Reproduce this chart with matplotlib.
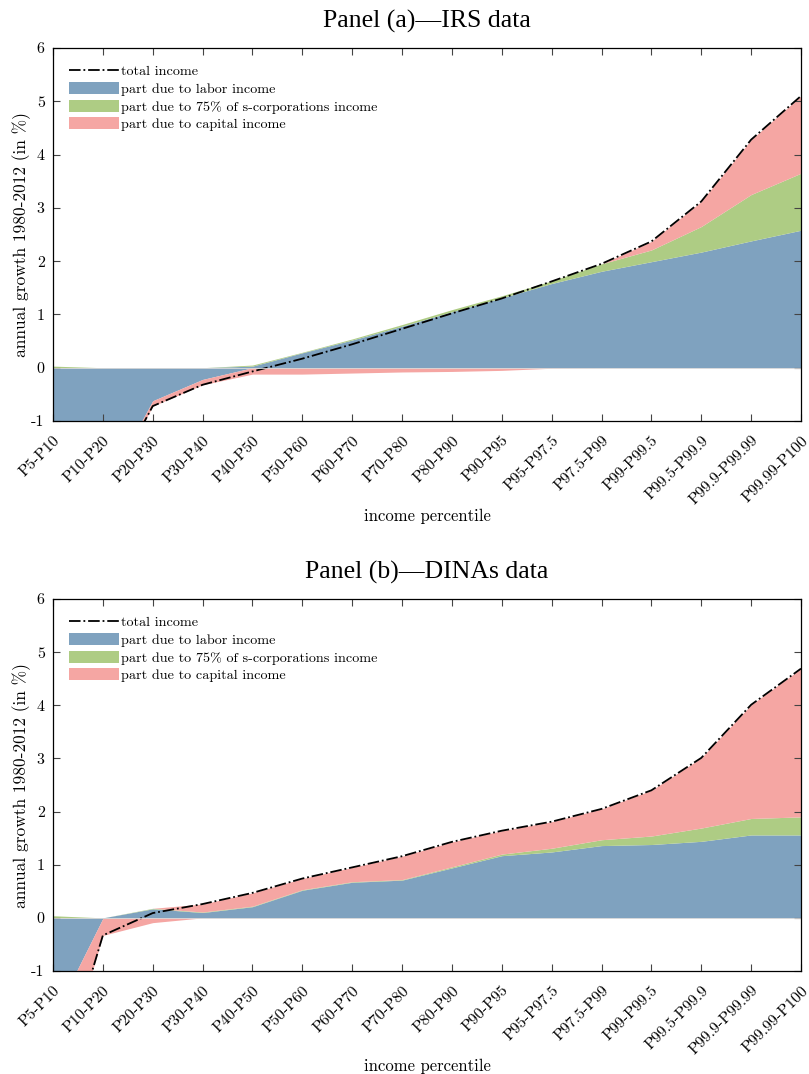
import numpy as np
import matplotlib
matplotlib.use("Agg")
import matplotlib.pyplot as plt
from matplotlib.lines import Line2D
from matplotlib.patches import Patch

plt.rcParams['font.family'] = ['cmr10', 'DejaVu Serif']
plt.rcParams['axes.unicode_minus'] = False

categories = ["P5-P10", "P10-P20", "P20-P30", "P30-P40", "P40-P50", "P50-P60",
              "P60-P70", "P70-P80", "P80-P90", "P90-P95", "P95-P97.5", "P97.5-P99",
              "P99-P99.5", "P99.5-P99.9", "P99.9-P99.99", "P99.99-P100"]

# Panel (a) IRS data
irs_labor = [-2.50, -2.35, -0.62, -0.22, 0.03, 0.28, 0.52, 0.78, 1.05, 1.31, 1.58, 1.81, 1.99, 2.17, 2.38, 2.58]
irs_scorp = [0.03, 0.00, 0.00, 0.00, 0.02, 0.01, 0.02, 0.03, 0.04, 0.04, 0.05, 0.14, 0.22, 0.48, 0.87, 1.07]
irs_capital = [-0.30, -0.12, -0.10, -0.10, -0.12, -0.12, -0.10, -0.08, -0.07, -0.05, -0.01, 0.00, 0.16, 0.47, 1.03, 1.45]

# Panel (b) DINAs data
dina_labor = [-1.89, -0.01, 0.17, 0.10, 0.21, 0.52, 0.67, 0.71, 0.94, 1.17, 1.24, 1.36, 1.38, 1.44, 1.56, 1.56]
dina_scorp = [0.04, 0.00, 0.01, 0.01, 0.01, 0.01, 0.01, 0.01, 0.02, 0.03, 0.07, 0.11, 0.16, 0.25, 0.31, 0.34]
dina_capital = [-1.61, -0.32, -0.09, 0.15, 0.25, 0.21, 0.27, 0.44, 0.47, 0.44, 0.50, 0.58, 0.86, 1.32, 2.14, 2.79]

legend_labels = ["total income", "part due to labor income",
                 "part due to 75% of s-corporations income", "part due to capital income"]
titles = ["Panel (a)\u2014IRS data", "Panel (b)\u2014DINAs data"]
ytick_vals = [-1, 0, 1, 2, 3, 4, 5, 6]

c_labor = "#7fa2bf"
c_scorp = "#aecc84"
c_cap = "#f5a6a3"

W, H = 809, 1074
fig = plt.figure(figsize=(W / 100, H / 100), dpi=100)


def make_axes(top_px, bottom_px):
    left, right = 53, 801
    return fig.add_axes([left / W, 1 - bottom_px / H, (right - left) / W, (bottom_px - top_px) / H])


def draw_panel(ax, labor, scorp, capital, title):
    x = np.arange(len(categories))
    series = [np.array(labor), np.array(scorp), np.array(capital)]
    colors = [c_labor, c_scorp, c_cap]
    pos_base = np.zeros(len(x))
    neg_base = np.zeros(len(x))
    for s, c in zip(series, colors):
        p = np.clip(s, 0, None)
        n = np.clip(s, None, 0)
        ax.fill_between(x, pos_base, pos_base + p, color=c, lw=0)
        ax.fill_between(x, neg_base, neg_base + n, color=c, lw=0)
        pos_base = pos_base + p
        neg_base = neg_base + n
    total = series[0] + series[1] + series[2]
    ax.plot(x, total, color="black", ls="-.", lw=1.3)
    ax.plot([x[0], x[-1]], [0, 0], color="#d8d8d8", lw=0.6)

    ax.set_xlim(x[0], x[-1])
    ax.set_ylim(-1, 6)
    ax.set_yticks(ytick_vals)
    ax.set_yticklabels([str(v) for v in ytick_vals], fontsize=11.5)
    ax.set_xticks(x)
    ax.set_xticklabels(categories, rotation=45, ha="right", va="top",
                       rotation_mode="anchor", fontsize=11.5)
    ax.tick_params(axis="both", direction="in", top=True, right=True, length=5, width=0.8,
                   color="#444444")
    ax.tick_params(axis="x", pad=9)
    ax.tick_params(axis="y", pad=6)
    for sp in ax.spines.values():
        sp.set_linewidth(0.9)
        sp.set_color("black")
    ax.set_ylabel("annual growth 1980-2012 (in %)", fontsize=12.5, labelpad=0)
    ax.set_xlabel("income percentile", fontsize=12, labelpad=1)
    ax.set_title(title, fontsize=18.5, family=["Liberation Serif", "DejaVu Serif"], pad=15)

    handles = [Line2D([0], [0], color="black", ls="-.", lw=1.3),
               Patch(facecolor=c_labor, edgecolor="none"),
               Patch(facecolor=c_scorp, edgecolor="none"),
               Patch(facecolor=c_cap, edgecolor="none")]
    ax.legend(handles, legend_labels, loc="upper left", frameon=False, fontsize=10.2,
              handlelength=3.5, handleheight=0.95, handletextpad=0.15,
              labelspacing=0.26, borderaxespad=0.75, borderpad=0.4)


ax1 = make_axes(48, 421)
draw_panel(ax1, irs_labor, irs_scorp, irs_capital, titles[0])
ax2 = make_axes(599, 971)
draw_panel(ax2, dina_labor, dina_scorp, dina_capital, titles[1])

fig.savefig("out.png", dpi=100)
